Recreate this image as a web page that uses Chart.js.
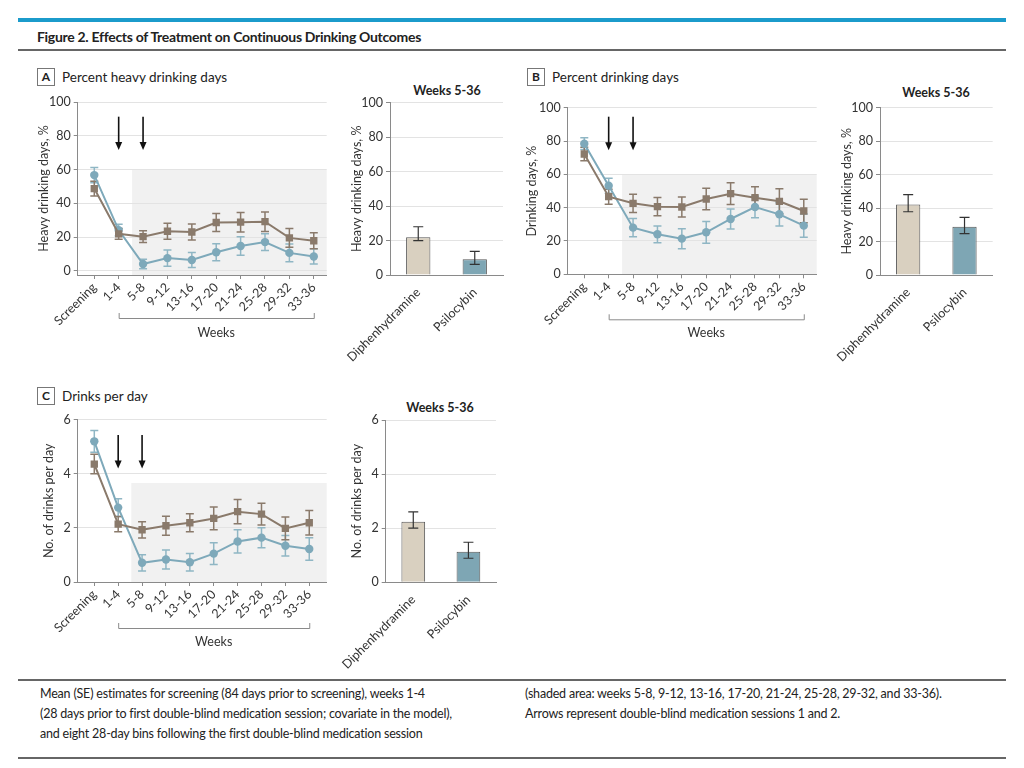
<!DOCTYPE html>
<html><head><meta charset="utf-8">
<script src="https://cdn.jsdelivr.net/npm/chart.js@4.4.0/dist/chart.umd.min.js"></script>
<style>
body{margin:0;background:#fff;width:1024px;height:768px;position:relative;overflow:hidden;font-family:Lato,sans-serif;color:#222}
canvas{position:absolute}
.rule{position:absolute;left:18px;width:988px}
.box{position:absolute;width:16px;height:16px;border:1px solid #777;font-weight:bold;font-size:12px;text-align:center;line-height:16px;color:#222}
.ptitle{position:absolute;font-size:13.5px;line-height:18px;color:#222;white-space:nowrap}
.wtitle{position:absolute;font-size:12.5px;font-weight:bold;line-height:16px;white-space:nowrap;transform:translateX(-50%)}
.cap{position:absolute;font-size:12.5px;letter-spacing:-0.2px;line-height:20px;color:#222;white-space:nowrap}
</style></head>
<body>
<div class="rule" style="top:18px;height:4px;background:#1b9bcb"></div>
<div style="position:absolute;left:37px;top:28px;font-size:14px;font-weight:bold;letter-spacing:-0.3px;white-space:nowrap">Figure 2. Effects of Treatment on Continuous Drinking Outcomes</div>
<div class="rule" style="top:49px;height:1.5px;background:#666"></div>

<div class="box" style="left:37px;top:68px">A</div><div class="ptitle" style="left:62px;top:68px">Percent heavy drinking days</div>
<div class="wtitle" style="left:447px;top:83px">Weeks 5-36</div>
<div class="box" style="left:527px;top:68px">B</div><div class="ptitle" style="left:552px;top:68px">Percent drinking days</div>
<div class="wtitle" style="left:936px;top:85px">Weeks 5-36</div>
<div class="box" style="left:37px;top:387px">C</div><div class="ptitle" style="left:62px;top:387px">Drinks per day</div>
<div class="wtitle" style="left:440px;top:400px">Weeks 5-36</div>

<canvas id="aLine"></canvas><canvas id="aBar"></canvas>
<canvas id="bLine"></canvas><canvas id="bBar"></canvas>
<canvas id="cLine"></canvas><canvas id="cBar"></canvas>

<div class="rule" style="top:679px;height:1.5px;background:#666"></div>
<div class="cap" style="left:40px;top:684px">Mean (SE) estimates for screening (84 days prior to screening), weeks 1-4<br>(28 days prior to first double-blind medication session; covariate in the model),<br>and eight 28-day bins following the first double-blind medication session</div>
<div class="cap" style="left:525px;top:684px">(shaded area: weeks 5-8, 9-12, 13-16, 17-20, 21-24, 25-28, 29-32, and 33-36).<br>Arrows represent double-blind medication sessions 1 and 2.</div>
<div class="rule" style="top:757px;height:1.5px;background:#666"></div>

<script>
// ---- data ----
const weekLabels = ['Screening','1-4','5-8','9-12','13-16','17-20','21-24','25-28','29-32','33-36'];
const groupLabels = ['Diphenhydramine','Psilocybin'];
const pctTicks = [0,20,40,60,80,100];
const drinkTicks = [0,2,4,6];

const heavyDiph   = [48.7, 21.9, 20.2, 23.4, 23.0, 28.6, 28.8, 29.1, 19.5, 17.8];
const heavyDiphSE = [4.4, 3.2, 3.5, 4.7, 4.7, 5.3, 5.8, 5.8, 5.5, 4.7];
const heavyPsil   = [56.7, 24.1, 4.0, 7.5, 6.4, 11.0, 14.7, 17.0, 10.6, 8.5];
const heavyPsilSE = [4.5, 3.5, 2.8, 4.8, 4.5, 5.0, 5.5, 5.0, 5.2, 4.5];
const heavyBar   = [21.9, 9.1];
const heavyBarLo = [19.9, 6.2];
const heavyBarHi = [28.0, 13.7];

const drinkDiph   = [72.2, 46.6, 42.6, 40.6, 40.4, 45.2, 48.4, 46.0, 43.8, 38.0];
const drinkDiphSE = [4.0, 4.5, 5.5, 5.5, 6.0, 6.5, 6.5, 6.5, 7.5, 7.0];
const drinkPsil   = [78.4, 53.2, 28.0, 24.0, 21.4, 25.2, 33.2, 40.4, 36.0, 29.2];
const drinkPsilSE = [3.5, 4.5, 5.5, 5.0, 6.0, 6.5, 6.0, 6.5, 7.0, 7.0];
const drinkBar   = [42.2, 28.9];
const drinkBarLo = [37.8, 24.7];
const drinkBarHi = [48.0, 34.5];

const dpdDiph   = [4.36, 2.14, 1.93, 2.08, 2.19, 2.35, 2.60, 2.51, 1.98, 2.19];
const dpdDiphSE = [0.36, 0.28, 0.30, 0.35, 0.33, 0.42, 0.45, 0.40, 0.42, 0.45];
const dpdPsil   = [5.20, 2.75, 0.71, 0.83, 0.73, 1.05, 1.50, 1.64, 1.34, 1.22];
const dpdPsilSE = [0.40, 0.33, 0.30, 0.35, 0.32, 0.40, 0.43, 0.37, 0.38, 0.42];
const dpdBar   = [2.24, 1.13];
const dpdBarLo = [2.00, 0.89];
const dpdBarHi = [2.60, 1.48];

const sessionIdx = [1, 2];   // arrows: double-blind sessions
const shadeStart = 1.55;     // shaded follow-up (weeks 5-36)

// ---- styles ----
const BROWN = '#8a7a6b', BLUE = '#7ea9ba', BLUE_ERR = '#8fb6c4';
const BAR_D = '#d9d0c0', BAR_P = '#7ea6b4';
const AXIS = '#8a8a8a', GRID = '#e3e3e3', TXT = '#333';
Chart.defaults.font.family = 'Lato, sans-serif';
Chart.defaults.font.size = 12.5;
Chart.defaults.color = TXT;

const decor = {
  id: 'decor',
  beforeDraw(chart, a, o) {
    if (!o.shade) return;
    const {ctx, chartArea: ca, scales: {x, y}} = chart;
    const x0 = x.getPixelForValue(o.shade.from), yt = y.getPixelForValue(o.shade.top);
    ctx.save(); ctx.fillStyle = '#f1f1f1';
    ctx.fillRect(x0, yt, ca.right - x0, ca.bottom - yt); ctx.restore();
  },
  beforeDatasetsDraw(chart, a, o) { drawErr(chart, o.errors, false); },
  afterDatasetsDraw(chart, a, o) { drawErr(chart, o.errors, true); },
  afterDraw(chart, a, o) {
    const {ctx, chartArea: ca, scales: {x, y}} = chart;
    if (o.arrows) {
      ctx.save(); ctx.strokeStyle = '#111'; ctx.fillStyle = '#111'; ctx.lineWidth = 1.6;
      o.arrows.at.forEach(i => {
        const px = x.getPixelForValue(i), y1 = y.getPixelForValue(o.arrows.from), y2 = y.getPixelForValue(o.arrows.to);
        ctx.beginPath(); ctx.moveTo(px, y1); ctx.lineTo(px, y2 - 6); ctx.stroke();
        ctx.beginPath(); ctx.moveTo(px - 3.5, y2 - 8); ctx.lineTo(px + 3.5, y2 - 8); ctx.lineTo(px, y2); ctx.closePath(); ctx.fill();
      });
      ctx.restore();
    }
    if (o.bracket) {
      const b = o.bracket, x1 = x.getPixelForValue(b.from), x2 = x.getPixelForValue(b.to), yb = ca.bottom + b.dy;
      ctx.save(); ctx.strokeStyle = AXIS; ctx.lineWidth = 1;
      ctx.beginPath(); ctx.moveTo(x1 + .5, yb - 5); ctx.lineTo(x1 + .5, yb + .5); ctx.lineTo(x2 + .5, yb + .5); ctx.lineTo(x2 + .5, yb - 5); ctx.stroke();
      ctx.fillStyle = TXT; ctx.font = '12.5px Lato, sans-serif'; ctx.textAlign = 'center'; ctx.textBaseline = 'middle';
      ctx.fillText(b.text, (x1 + x2) / 2, ca.bottom + b.textDy); ctx.restore();
    }
  }
};
function drawErr(chart, errors, front) {
  if (!errors) return;
  const {ctx, scales: {x, y}} = chart;
  errors.filter(e => !!e.front === front).forEach(e => {
    ctx.save(); ctx.strokeStyle = e.color; ctx.lineWidth = e.width;
    e.mean.forEach((m, i) => {
      const lo = e.lo ? e.lo[i] : m - e.se[i], hi = e.hi ? e.hi[i] : m + e.se[i];
      const px = x.getPixelForValue(i), pl = y.getPixelForValue(lo), ph = y.getPixelForValue(hi), c = e.cap / 2;
      ctx.beginPath();
      ctx.moveTo(px, pl); ctx.lineTo(px, ph);
      ctx.moveTo(px - c, pl); ctx.lineTo(px + c, pl);
      ctx.moveTo(px - c, ph); ctx.lineTo(px + c, ph);
      ctx.stroke();
    });
    ctx.restore();
  });
}
Chart.register(decor);

function setRect(cv, r) {
  cv.width = r.w; cv.height = r.h;
  cv.style.left = r.x + 'px'; cv.style.top = r.y + 'px';
  cv.style.width = r.w + 'px'; cv.style.height = r.h + 'px';
}
function yScale(rect, area, min, max, ticks, title, titleX) {
  return {
    min, max,
    afterBuildTicks: s => { s.ticks = ticks.map(v => ({value: v})); },
    ticks: {padding: 3, color: TXT, font: {size: 12.5}},
    grid: {color: GRID, tickColor: AXIS, tickLength: 4},
    border: {color: AXIS},
    title: {display: true, text: title, padding: {top: titleX - rect.x - 7.5, bottom: 0}, color: TXT, font: {size: 12.5}},
    afterFit: s => { s.width = area.l - rect.x; s.paddingTop = 0; s.paddingBottom = 0; }
  };
}
function lineChart(id, rect, area, c) {
  const cv = document.getElementById(id); setRect(cv, rect);
  new Chart(cv, {
    type: 'line',
    data: {datasets: [
      {label: groupLabels[0], data: c.diph.map((v, i) => ({x: i, y: v})), borderColor: BROWN, backgroundColor: BROWN, pointStyle: 'rect', pointRadius: 5.2, pointBorderWidth: 0, borderWidth: 2},
      {label: groupLabels[1], data: c.psil.map((v, i) => ({x: i, y: v})), borderColor: BLUE, backgroundColor: BLUE, pointStyle: 'circle', pointRadius: 4.2, pointBorderWidth: 0, borderWidth: 2}
    ]},
    options: {
      responsive: false, animation: false, devicePixelRatio: 1,
      layout: {padding: {top: area.t - rect.y, right: rect.x + rect.w - area.r, left: 0, bottom: 0}},
      plugins: {legend: {display: false}, tooltip: {enabled: false},
        decor: {
          shade: {from: shadeStart, top: c.shadeTop},
          errors: [
            {mean: c.psil, se: c.psilSE, color: BLUE_ERR, width: 1.5, cap: 8},
            {mean: c.diph, se: c.diphSE, color: BROWN, width: 1.5, cap: 8}
          ],
          arrows: {at: sessionIdx, from: c.arrowFrom, to: c.arrowTo},
          bracket: {from: 1, to: 9, dy: c.brDy, textDy: c.brTextDy, text: 'Weeks'}
        }},
      scales: {
        x: {type: 'linear', min: c.xmin, max: c.xmax,
          afterBuildTicks: s => { s.ticks = weekLabels.map((_, i) => ({value: i})); },
          ticks: {autoSkip: false, minRotation: 45, maxRotation: 45, padding: 1, color: TXT, font: {size: 12.5}, callback: v => weekLabels[v]},
          grid: {drawOnChartArea: false, tickLength: 4, tickColor: AXIS},
          border: {color: AXIS},
          afterFit: s => { s.height = rect.y + rect.h - area.b; s.paddingLeft = 0; s.paddingRight = 0; }},
        y: yScale(rect, area, c.ymin, c.ymax, c.yticks, c.ytitle, c.titleX)
      }
    }
  });
}
function barChart(id, rect, area, c) {
  const cv = document.getElementById(id); setRect(cv, rect);
  new Chart(cv, {
    type: 'bar',
    data: {labels: groupLabels, datasets: [{data: c.vals, backgroundColor: [BAR_D, BAR_P], borderColor: '#555', borderWidth: 1, borderSkipped: 'bottom', barPercentage: 0.43, categoryPercentage: 1}]},
    options: {
      responsive: false, animation: false, devicePixelRatio: 1,
      layout: {padding: {top: area.t - rect.y, right: rect.x + rect.w - area.r, left: 0, bottom: 0}},
      plugins: {legend: {display: false}, tooltip: {enabled: false},
        decor: {errors: [{mean: c.vals, lo: c.lo, hi: c.hi, color: '#333', width: 1.2, cap: 10, front: true}]}},
      scales: {
        x: {ticks: {autoSkip: false, minRotation: 45, maxRotation: 45, padding: 2, color: TXT, font: {size: 12.5}},
          grid: {display: false}, border: {color: AXIS},
          afterFit: s => { s.height = rect.y + rect.h - area.b; s.paddingLeft = 0; s.paddingRight = 0; }},
        y: yScale(rect, area, c.ymin, c.ymax, c.yticks, c.ytitle, c.titleX)
      }
    }
  });
}

lineChart('aLine', {x: 30, y: 88, w: 310, h: 262}, {l: 77.7, t: 102, r: 326.7, b: 275},
  {diph: heavyDiph, diphSE: heavyDiphSE, psil: heavyPsil, psilSE: heavyPsilSE, xmin: -0.68, xmax: 9.53,
   ymin: -2.5, ymax: 100, yticks: pctTicks, ytitle: 'Heavy drinking days, %', titleX: 44, shadeTop: 60,
   arrowFrom: 91.3, arrowTo: 71.6, brDy: 43, brTextDy: 58});
barChart('aBar', {x: 325, y: 88, w: 185, h: 277}, {l: 390, t: 102.7, r: 503, b: 275},
  {vals: heavyBar, lo: heavyBarLo, hi: heavyBarHi, ymin: 0, ymax: 100, yticks: pctTicks, ytitle: 'Heavy drinking days, %', titleX: 357});
lineChart('bLine', {x: 515, y: 92, w: 315, h: 258}, {l: 567.7, t: 107.7, r: 816.7, b: 274.3},
  {diph: drinkDiph, diphSE: drinkDiphSE, psil: drinkPsil, psilSE: drinkPsilSE, xmin: -0.68, xmax: 9.53,
   ymin: 0, ymax: 100, yticks: pctTicks, ytitle: 'Drinking days, %', titleX: 532, shadeTop: 60,
   arrowFrom: 94.6, arrowTo: 74.4, brDy: 45, brTextDy: 58.4});
barChart('bBar', {x: 815, y: 92, w: 190, h: 273}, {l: 880, t: 107.7, r: 992.7, b: 275},
  {vals: drinkBar, lo: drinkBarLo, hi: drinkBarHi, ymin: 0, ymax: 100, yticks: pctTicks, ytitle: 'Heavy drinking days, %', titleX: 847});
lineChart('cLine', {x: 30, y: 405, w: 310, h: 255}, {l: 77.7, t: 419.7, r: 326.7, b: 582},
  {diph: dpdDiph, diphSE: dpdDiphSE, psil: dpdPsil, psilSE: dpdPsilSE, xmin: -0.695, xmax: 9.73,
   ymin: 0, ymax: 6, yticks: drinkTicks, ytitle: 'No. of drinks per day', titleX: 48.5, shadeTop: 3.66,
   arrowFrom: 5.43, arrowTo: 4.2, brDy: 46, brTextDy: 60});
barChart('cBar', {x: 325, y: 405, w: 180, h: 270}, {l: 385.7, t: 420, r: 496, b: 582.3},
  {vals: dpdBar, lo: dpdBarLo, hi: dpdBarHi, ymin: 0, ymax: 6, yticks: drinkTicks, ytitle: 'No. of drinks per day', titleX: 357});
</script>
</body></html>
